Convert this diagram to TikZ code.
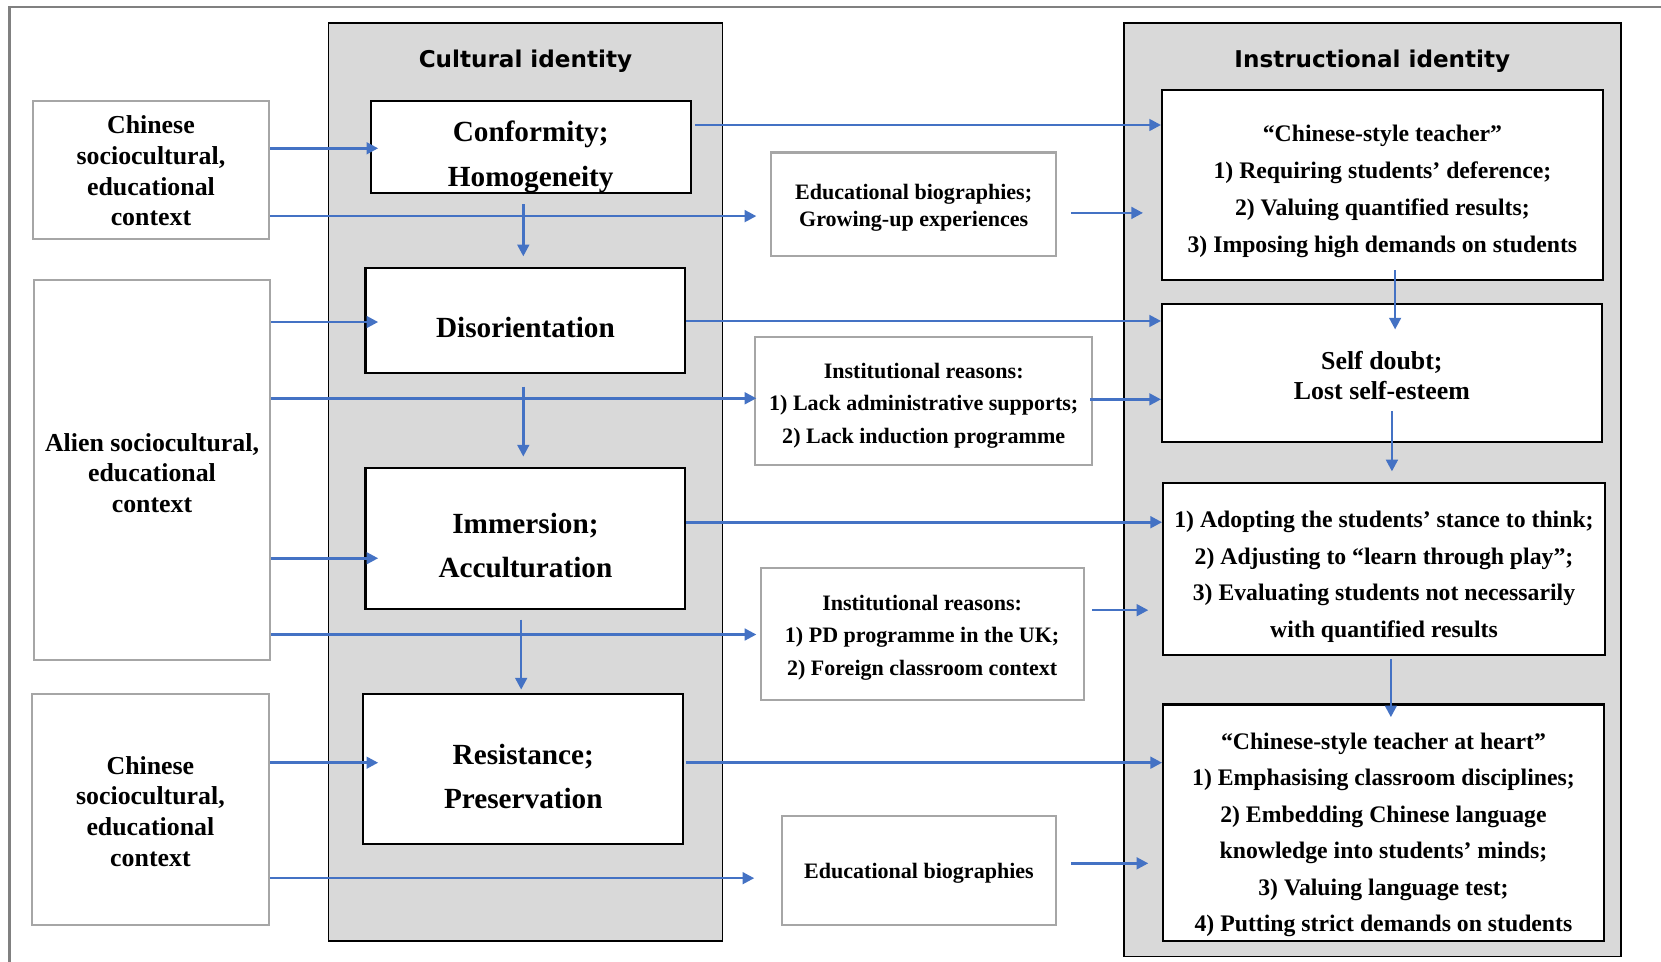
\documentclass[tikz,border=0pt]{standalone}
\usepackage{fontspec}
\setmainfont{Liberation Serif}
\newfontfamily\titlefont{DejaVu Sans}
\usetikzlibrary{arrows.meta}
\definecolor{arrowblue}{HTML}{4472C4}
\definecolor{panelgray}{HTML}{D9D9D9}
\definecolor{boxgray}{HTML}{A6A6A6}
\definecolor{framegray}{HTML}{808080}

\begin{document}
\begin{tikzpicture}[x=0.5pt,y=-0.5pt,
  sz/.style 2 args={minimum width=#1*0.5pt, minimum height=#2*0.5pt},
  panel/.style={draw=black, line width=0.8pt, fill=panelgray, inner sep=0pt},
  paneltitle/.style={font=\titlefont\bfseries\fontsize{10.9}{13}\selectfont, inner sep=0pt},
  greybox/.style={draw=boxgray, line width=1pt, fill=white, inner sep=0pt},
  blackbox/.style={draw=black, line width=1pt, fill=white, inner sep=0pt},
  txt/.style={inner sep=0pt, align=center},
  ctxtext/.style={txt, font=\bfseries\fontsize{12.2}{14.5}\selectfont},
  stagetext/.style={txt, font=\bfseries\fontsize{13.8}{21}\selectfont},
  reasontext/.style={txt, font=\bfseries\fontsize{10.4}{15.4}\selectfont},
  teachtext/.style={txt, font=\bfseries\fontsize{11.2}{17.2}\selectfont},
  arr/.style={draw=arrowblue, line width=1.2pt, -{Triangle[length=5.5pt,width=5.5pt]}}]

\useasboundingbox (0,0) rectangle (1568,908);

% outer frame (top and left edges)
\draw[framegray, line width=1pt] (9,908) -- (9,6.6) -- (1568,6.6);

% the two identity panels
\node[panel, sz={372}{866}] (cult) at (496,455) {};
\node[paneltitle] (culttitle) at (496,58) {Cultural identity};
\node[panel, sz={469}{881}] (instr) at (1295.5,462.5) {};
\node[paneltitle] (instrtitle) at (1295.5,58) {Instructional identity};

% contexts
\node[greybox, sz={223}{131}] (l1) at (142.5,160.5) {};
\node[ctxtext] (l1t) at ([yshift=-0.5pt]l1.center) {Chinese\\sociocultural,\\educational\\context};
\node[greybox, sz={223}{359}] (l2) at (143.5,443.5) {};
\node[ctxtext] (l2t) at ([yshift=-1.5pt]l2.center) {Alien sociocultural,\\educational\\context};
\node[greybox, sz={224}{218}] (l3) at (142,764) {};
\node[ctxtext] (l3t) at ([yshift=-1pt]l3.center) {Chinese\\sociocultural,\\educational\\context};

% cultural identity stages
\node[blackbox, sz={302}{87}] (c1) at (501,138.5) {};
\node[stagetext] (c1t) at ([yshift=-4.75pt]c1.center) {Conformity;\\Homogeneity};
\node[blackbox, sz={302}{99}] (c2) at (496,302.5) {};
\node[stagetext] (c2t) at ([yshift=-3.5pt]c2.center) {Disorientation};
\node[blackbox, sz={302}{133}] (c3) at (496,508.5) {};
\node[stagetext] (c3t) at ([yshift=-3.25pt]c3.center) {Immersion;\\Acculturation};
\node[blackbox, sz={302}{142}] (c4) at (494,726) {};
\node[stagetext] (c4t) at ([yshift=-3.5pt]c4.center) {Resistance;\\Preservation};

% mediating factors
\node[greybox, sz={269}{98}] (m1) at (862.5,193) {};
\node[reasontext, font=\bfseries\fontsize{10.4}{12.5}\selectfont] (m1t) at ([yshift=-1.5pt]m1.center)
  {Educational biographies;\\Growing-up experiences};
\node[greybox, sz={318}{121}] (m2) at (872,378.5) {};
\node[reasontext] (m2t) at ([yshift=-2.25pt]m2.center)
  {Institutional reasons:\\1) Lack administrative supports;\\2) Lack induction programme};
\node[greybox, sz={305}{125}] (m3) at (870.5,598.5) {};
\node[reasontext] (m3t) at ([yshift=-1.75pt]m3.center)
  {Institutional reasons:\\1) PD programme in the UK;\\2) Foreign classroom context};
\node[greybox, sz={259}{103}] (m4) at (867.5,821.5) {};
\node[reasontext] (m4t) at ([yshift=-1.5pt]m4.center) {Educational biographies};

% instructional identity stages
\node[blackbox, sz={416}{179}] (r1) at (1305,174.5) {};
\node[teachtext, font=\bfseries\fontsize{11.2}{17.4}\selectfont] (r1t) at ([yshift=-3pt]r1.center)
  {“Chinese-style teacher”\\1) Requiring students’ deference;\\2) Valuing quantified results;\\3) Imposing high demands on students};
\node[blackbox, sz={415}{130}] (r2) at (1304.5,352) {};
\node[teachtext, font=\bfseries\fontsize{12.2}{14.5}\selectfont] (r2t) at ([yshift=-1.25pt]r2.center)
  {Self doubt;\\Lost self-esteem};
\node[blackbox, sz={417}{162}] (r3) at (1306.5,537) {};
\node[teachtext] (r3t) at ([yshift=-3.75pt]r3.center)
  {1) Adopting the students’ stance to think;\\2) Adjusting to “learn through play”;\\3) Evaluating students not necessarily\\with quantified results};
\node[blackbox, sz={416}{223}] (r4) at (1306,776.5) {};
\node[teachtext] (r4t) at ([yshift=-5.75pt]r4.center)
  {“Chinese-style teacher at heart”\\1) Emphasising classroom disciplines;\\2) Embedding Chinese language\\knowledge into students’ minds;\\3) Valuing language test;\\4) Putting strict demands on students};

% arrow levels
\foreach \v in {118,140,201,204,303,304,376,377,493,527,576,599,720,815,829}
  \coordinate (h\v) at (0,\v);
\foreach \v in {492,494,1313,1314,1317}
  \coordinate (v\v) at (\v,0);

% connectors
\draw[arr, shorten >=-4pt] (l1.east |- h140) -- (c1.west |- h140);
\draw[arr, shorten >=6.5pt] (l1.east |- h204) -- (m1.west |- h204);
\draw[arr, shorten <=1.5pt] (c1.east |- h118) -- (r1.west |- h118);
\draw[arr, shorten <=6.5pt, shorten >=8.5pt] (m1.east |- h201) -- (r1.west |- h201);
\draw[arr, shorten <=5pt, shorten >=5pt] (v494 |- c1.south) -- (v494 |- c2.north);

\draw[arr, shorten >=-6.5pt] (l2.east |- h304) -- (c2.west |- h304);
\draw[arr] (c2.east |- h303) -- (r2.west |- h303);
\draw[arr, shorten >=-1pt] (l2.east |- h376) -- (m2.west |- h376);
\draw[arr, shorten <=-1.5pt] (m2.east |- h377) -- (r2.west |- h377);
\draw[arr, shorten <=6pt, shorten >=5pt] (v494 |- c2.south) -- (v494 |- c3.north);
\draw[arr, shorten <=-5pt, shorten >=-12.5pt] (v1317 |- r1.south) -- (v1317 |- r2.north);
\draw[arr, shorten <=-15pt, shorten >=5pt] (v1314 |- r2.south) -- (v1314 |- r3.north);

\draw[arr, shorten >=-6.5pt] (l2.east |- h527) -- (c3.west |- h527);
\draw[arr] (c3.east |- h493) -- (r3.west |- h493);
\draw[arr, shorten >=1.5pt] (l2.east |- h599) -- (m3.west |- h599);
\draw[arr, shorten <=3.5pt, shorten >=6.5pt] (m3.east |- h576) -- (r3.west |- h576);
\draw[arr, shorten <=4.5pt, shorten >=1.5pt] (v492 |- c3.south) -- (v492 |- c4.north);
\draw[arr, shorten <=1.5pt, shorten >=-6.5pt] (v1313 |- r3.south) -- (v1313 |- r4.north);

\draw[arr, shorten >=-7.5pt] (l3.east |- h720) -- (c4.west |- h720);
\draw[arr, shorten <=1pt] (c4.east |- h720) -- (r4.west |- h720);
\draw[arr, shorten >=12.5pt] (l3.east |- h829) -- (m4.west |- h829);
\draw[arr, shorten <=6.5pt, shorten >=6.5pt] (m4.east |- h815) -- (r4.west |- h815);

\end{tikzpicture}
\end{document}
